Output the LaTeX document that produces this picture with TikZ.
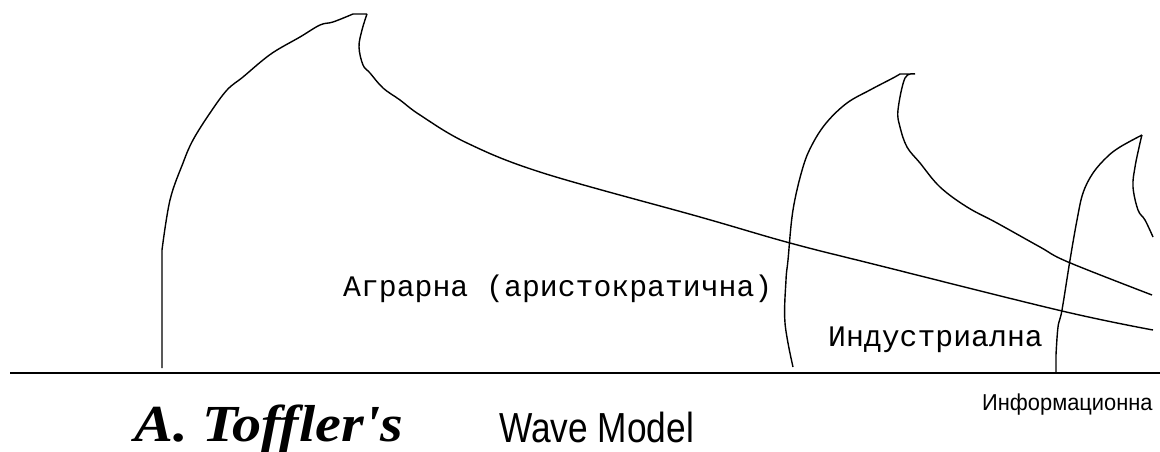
\documentclass[tikz,border=0pt]{standalone}
\usepackage{fontspec}
\usepackage{tikz}
\newfontfamily\monofnt{Liberation Mono}
\newfontfamily\seriffnt{Liberation Serif}
\newfontfamily\sansfnt{Liberation Sans}
\definecolor{Ink}{HTML}{000000}

\begin{document}
\begin{tikzpicture}[x=1pt,y=-1pt,
  wave/.style={Ink,line width=1.4pt,line join=round},
  lbl/.style={inner sep=0pt,anchor=base west,Ink}]
  \useasboundingbox (0,0) rectangle (1160,452);
  % ground line
  \draw[Ink,line width=2pt] (10,373) -- (1160,373);
  % first wave
  \draw[wave] (162,368) -- (162,250)
    plot[smooth,tension=0.6] coordinates {(162,250) (170,200) (183,163) (193,140)
      (210,113) (227,90) (243,77) (263,60) (277,50) (300,37) (320,25) (333,22) (353,14)}
    -- (367,14)
    plot[smooth,tension=0.6] coordinates {(367,14) (362,30) (359,47) (363,65) (370,73)
      (383,88) (400,100) (420,115) (467,143) (543,173) (700,217) (790,243)
      (877,265) (1062,311) (1153,330)};
  % second wave
  \draw[wave] plot[smooth,tension=0.6] coordinates {(793,367) (785,323) (786,280)
      (788,260) (793,210) (803,167) (813,143) (827,122) (847,103) (870,90) (893,78) (900,74)}
    -- (915,74)
    plot[smooth,tension=0.6] coordinates {(915,74) (905,78) (898,110) (900,127)
      (907,147) (920,163) (940,187) (967,207) (997,223) (1040,247) (1068,262) (1152,295)};
  % third wave
  \draw[wave] (1056,373) -- (1056,355)
    plot[smooth,tension=0.6] coordinates {(1056,355) (1058,327) (1062,310) (1070,260)
      (1077,220) (1083,193) (1093,173) (1107,157) (1120,147) (1142,135)}
    plot[smooth,tension=0.6] coordinates {(1142,135) (1140,143) (1135,167) (1133,187)
      (1138,210) (1145,220) (1153,237)};
  % labels
  \node[lbl,font=\monofnt\fontsize{29.8}{32}\selectfont] (agrar) at (343,296) {Аграрна (аристократична)};
  \node[lbl,font=\monofnt\fontsize{29.8}{32}\selectfont] (indust) at (828,346) {Индустриална};
  \node[lbl,font=\sansfnt\fontsize{23}{25}\selectfont,xscale=0.95] (inform) at (982,410) {Информационна};
  \node[lbl,font=\seriffnt\bfseries\itshape\fontsize{52}{56}\selectfont,xscale=1.12] (author) at (134,441) {A. Toffler's};
  \node[lbl,font=\sansfnt\fontsize{42}{44}\selectfont,xscale=0.84] (title) at (499,442) {Wave Model};
\end{tikzpicture}
\end{document}
